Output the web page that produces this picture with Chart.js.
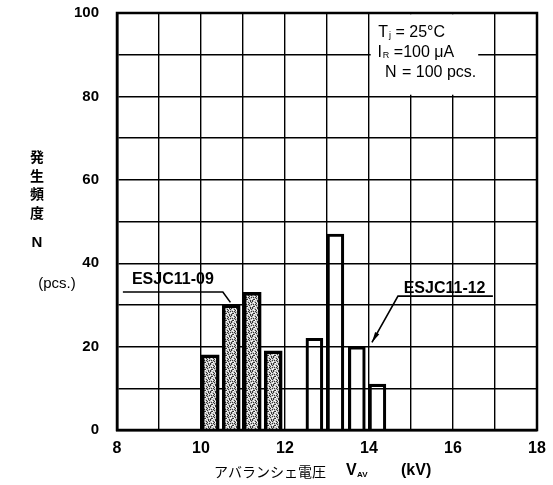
<!DOCTYPE html>
<html>
<head>
<meta charset="utf-8">
<script src="https://cdn.jsdelivr.net/npm/chart.js@4/dist/chart.umd.min.js"></script>
<style>
html,body{margin:0;padding:0;background:#fff;}
#wrap{width:553px;height:485px;position:relative;}
</style>
</head>
<body>
<div id="wrap"><canvas id="c" width="553" height="485"></canvas></div>
<script>
// ---- data ----
const xTicks = [8, 10, 12, 14, 16, 18];
const yTicks = [0, 20, 40, 60, 80, 100];
const esjc09Voltage = [10.22, 10.72, 11.22, 11.72];   // kV (bin centres)
const esjc09Count   = [18, 30, 33, 19];                // pcs.
const esjc12Voltage = [12.7, 13.2, 13.71, 14.2];      // kV
const esjc12Count   = [22, 47, 20, 11];                // pcs.
const seriesNames = ['ESJC11-09', 'ESJC11-12'];
const conditions = [['T', 'j', ' = 25°C'], ['I', 'R', ' =100 μA'], ['N', '', ' = 100 pcs.']];

// stipple pattern for the shaded series (fixed tile)
function makeStipple() {
  const t = document.createElement('canvas');
  t.width = 7; t.height = 7;
  const g = t.getContext('2d');
  g.fillStyle = '#c4c4c4'; g.fillRect(0, 0, 7, 7);
  const dark = [[0,0],[3,1],[5,0],[1,3],[4,4],[6,3],[2,5],[5,6],[0,6],[3,3],[6,1],[1,5],[4,2]];
  const light = [[1,1],[2,2],[5,2],[0,4],[3,5],[6,5],[4,0],[2,6]];
  g.fillStyle = '#333';
  dark.forEach(p => g.fillRect(p[0], p[1], 1, 1));
  g.fillStyle = '#fff';
  light.forEach(p => g.fillRect(p[0], p[1], 1, 1));
  return g.createPattern(t, 'repeat');
}

const ctx0 = document.getElementById('c').getContext('2d');
const stipple = makeStipple();

const annot = {
  id: 'annot',
  afterDraw(chart) {
    const ctx = chart.ctx, xs = chart.scales.x, ys = chart.scales.y, ca = chart.chartArea;
    const X = v => xs.getPixelForValue(v), Y = v => ys.getPixelForValue(v);
    ctx.save();
    // condition box (white, covers grid)
    ctx.fillStyle = '#fff';
    ctx.fillRect(X(14.04), Y(99.7), X(16.6) - X(14.04), Y(80.4) - Y(99.7));
    // frame
    ctx.strokeStyle = '#000'; ctx.lineWidth = 2.5;
    ctx.strokeRect(ca.left, ca.top, ca.right - ca.left, ca.bottom - ca.top);
    // condition text
    ctx.fillStyle = '#000'; ctx.textBaseline = 'middle';
    const lineY = [95.2, 90.4, 85.8], lineX = [14.22, 14.2, 14.38];
    conditions.forEach((c, i) => {
      let x = X(lineX[i]); const y = Y(lineY[i]);
      ctx.font = '500 16px "Liberation Sans", Arial, sans-serif';
      ctx.fillText(c[0], x, y); x += ctx.measureText(c[0]).width + 1;
      if (c[1]) {
        ctx.font = '9px "Liberation Sans", Arial, sans-serif';
        ctx.fillText(c[1], x, y + 2); x += ctx.measureText(c[1]).width;
      }
      ctx.font = '500 16px "Liberation Sans", Arial, sans-serif';
      ctx.fillText(c[2], x, y);
    });
    // series labels with leader lines
    ctx.font = 'bold 16px "Liberation Sans", Arial, sans-serif';
    ctx.textAlign = 'center';
    ctx.fillText(seriesNames[0], X(9.33), Y(36));
    ctx.fillText(seriesNames[1], X(15.8), Y(34));
    ctx.lineWidth = 1.6;
    ctx.beginPath();
    ctx.moveTo(X(8.14), Y(33.1)); ctx.lineTo(X(10.52), Y(33.1)); ctx.lineTo(X(10.7), Y(30.6));
    ctx.moveTo(X(16.95), Y(32.1)); ctx.lineTo(X(14.69), Y(32.1)); ctx.lineTo(X(14.07), Y(21.0));
    ctx.stroke();
    // arrow head
    const tx = X(14.07), ty = Y(21.0), fx = X(14.69), fy = Y(32.1);
    const ang = Math.atan2(ty - fy, tx - fx), L = 11, W = 0.22;
    ctx.beginPath();
    ctx.moveTo(tx, ty);
    ctx.lineTo(tx - L * Math.cos(ang - W), ty - L * Math.sin(ang - W));
    ctx.lineTo(tx - L * Math.cos(ang + W), ty - L * Math.sin(ang + W));
    ctx.closePath(); ctx.fill();
    // y-axis title
    ctx.font = 'bold 14px "Noto Sans CJK JP", sans-serif';
    ['発', '生', '頻', '度'].forEach((ch, i) => ctx.fillText(ch, 37, 157 + i * 18.5));
    ctx.font = 'bold 15px "Liberation Sans", Arial, sans-serif';
    ctx.fillText('N', 37, 243);
    ctx.font = '15px "Liberation Sans", Arial, sans-serif';
    ctx.fillText('(pcs.)', 57, 284);
    // x-axis title
    ctx.textAlign = 'left';
    ctx.font = '14px "Noto Sans CJK JP", sans-serif';
    ctx.fillText('アバランシェ電圧', 214, 472);
    ctx.font = 'bold 16px "Liberation Sans", Arial, sans-serif';
    ctx.fillText('V', 346, 471);
    ctx.font = 'bold 8px "Liberation Sans", Arial, sans-serif';
    ctx.fillText('AV', 357, 475);
    ctx.font = 'bold 16px "Liberation Sans", Arial, sans-serif';
    ctx.fillText('(kV)', 401, 471);
    ctx.restore();
  }
};

new Chart(ctx0, {
  type: 'bar',
  data: {
    datasets: [
      {
        label: seriesNames[0],
        data: esjc09Voltage.map((v, i) => ({ x: v, y: esjc09Count[i] })),
        backgroundColor: stipple,
        borderColor: '#000',
        borderWidth: 3.5,
        borderSkipped: 'bottom',
        barThickness: 18
      },
      {
        label: seriesNames[1],
        data: esjc12Voltage.map((v, i) => ({ x: v, y: esjc12Count[i] })),
        backgroundColor: 'rgba(255,255,255,0)',
        borderColor: '#000',
        borderWidth: 2.5,
        borderSkipped: 'bottom',
        barThickness: 17
      }
    ]
  },
  options: {
    responsive: false,
    animation: false,
    events: [],
    layout: { padding: { top: 13, right: 16, left: 0, bottom: 0 } },
    plugins: { legend: { display: false }, tooltip: { enabled: false } },
    datasets: { bar: { grouped: false } },
    scales: {
      x: {
        type: 'linear', min: 8, max: 18, z: 1, offset: false,
        afterFit(s) { s.height = 55; s.paddingLeft = 0; s.paddingRight = 0; },
        afterBuildTicks(s) { s.ticks = []; for (let v = 8; v <= 18; v++) s.ticks.push({ value: v }); },
        ticks: {
          autoSkip: false, maxRotation: 0, padding: 9, color: '#000',
          font: { family: '"Liberation Sans", Arial, sans-serif', size: 16, weight: 'bold' },
          callback: v => xTicks.includes(v) ? String(v) : ''
        },
        grid: { color: '#000', lineWidth: 1.4, drawTicks: false, offset: false },
        border: { color: '#000', width: 2.5 }
      },
      y: {
        type: 'linear', min: 0, max: 100, z: 1,
        afterFit(s) { s.width = 117; s.paddingTop = 0; s.paddingBottom = 0; },
        afterBuildTicks(s) { s.ticks = []; for (let v = 0; v <= 100; v += 10) s.ticks.push({ value: v }); },
        ticks: {
          autoSkip: false, padding: 18, color: '#000',
          font: { family: '"Liberation Sans", Arial, sans-serif', size: 15, weight: 'bold' },
          callback: v => yTicks.includes(v) ? String(v) : ''
        },
        grid: { color: '#000', lineWidth: 1.4, drawTicks: false },
        border: { color: '#000', width: 2.5 }
      }
    }
  },
  plugins: [annot]
});
</script>
</body>
</html>
